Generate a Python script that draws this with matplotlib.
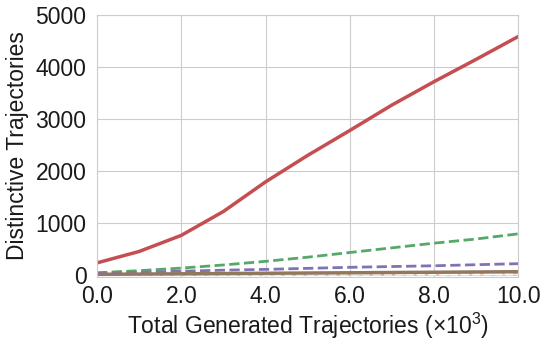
import numpy as np
import matplotlib
matplotlib.use("Agg")
import matplotlib.pyplot as plt
import seaborn as sns

sns.set_style("whitegrid")
plt.rcParams['font.family'] = ['Liberation Sans', 'DejaVu Sans']
plt.rcParams['mathtext.fontset'] = 'custom'
plt.rcParams['mathtext.rm'] = 'Liberation Sans'

pal = sns.color_palette("deep")

# x in thousands of generated trajectories
x = [0, 1, 2, 3, 4, 5, 6, 7, 8, 9, 10]
red = [230, 450, 760, 1220, 1790, 2300, 2780, 3270, 3720, 4150, 4590]
green = [40, 80, 130, 190, 260, 340, 430, 520, 610, 690, 790]
purple = [30, 50, 70, 90, 105, 125, 145, 160, 175, 195, 215]
brown = [10, 15, 20, 25, 30, 35, 40, 45, 50, 55, 60]
orange = [5, 8, 10, 13, 16, 19, 22, 25, 28, 31, 35]
white = [0, 1, 2, 3, 4, 5, 6, 7, 8, 9, 10]

fig, ax = plt.subplots(figsize=(5.48, 3.44), dpi=100)

ax.plot(x, red, color=pal[3], lw=2.5, ls='-')
ax.plot(x, green, color=pal[2], lw=2.0, ls='--')
ax.plot(x, purple, color=pal[4], lw=2.0, ls='--')
ax.plot(x, orange, color='#f2b38c', lw=2.0, ls='--')
ax.plot(x, white, color='white', lw=1.5, ls='--')
ax.plot(x, brown, color=pal[5], lw=2.5, ls='-')

ax.set_xlim(0, 10)
ax.set_ylim(-40, 5000)
ax.set_xticks([0, 2, 4, 6, 8, 10])
ax.set_xticklabels(['0.0', '2.0', '4.0', '6.0', '8.0', '10.0'])
ax.set_yticks([0, 1000, 2000, 3000, 4000, 5000])
ax.tick_params(labelsize=16.5, labelcolor='#1a1a1a')
ax.tick_params(axis='x', pad=2)
ax.tick_params(axis='y', pad=4)

ax.set_xlabel(r'Total Generated Trajectories ($\times10^3$)', fontsize=16.5,
              labelpad=2, color='#1a1a1a')
ax.set_ylabel('Distinctive Trajectories', fontsize=16.5, labelpad=5,
              color='#1a1a1a')

fig.subplots_adjust(left=0.177, right=0.946, top=0.956, bottom=0.195)
fig.savefig("out.png", dpi=100)
